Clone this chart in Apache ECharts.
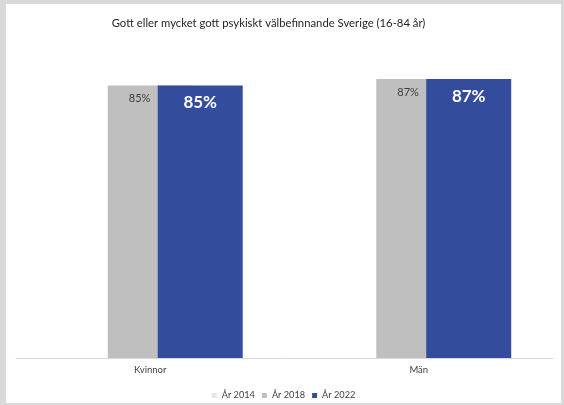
<!DOCTYPE html>
<html>
<head>
<meta charset="utf-8">
<script src="https://cdn.jsdelivr.net/npm/echarts@6/dist/echarts.min.js"></script>
<style>
  html, body { margin: 0; padding: 0; background: #d9d9d9; width: 564px; height: 405px; overflow: hidden; }
  #chart { position: absolute; left: 6px; top: 4px; width: 555px; height: 399px; background: #ffffff; }
</style>
</head>
<body>
<div id="chart"></div>
<script>
const titleText = 'Gott eller mycket gott psykiskt välbefinnande Sverige (16-84 år)';
const categories = ['Kvinnor', 'Män'];
const seriesNames = ['År 2014', 'År 2018', 'År 2022'];
const values2014 = [null, null];
const values2018 = [85, 87];
const values2022 = [85, 87];

const FONT = 'Lato, "Open Sans", sans-serif';
const chart = echarts.init(document.getElementById('chart'), null, { renderer: 'canvas' });
chart.setOption({
  animation: false,
  backgroundColor: '#ffffff',
  textStyle: { fontFamily: FONT },
  title: {
    text: titleText,
    left: 257.5,
    textAlign: 'center',
    top: 9,
    textStyle: { fontFamily: FONT, fontSize: 11.3, fontWeight: 'normal', color: '#262626' }
  },
  legend: {
    data: seriesNames,
    left: 'center',
    top: 382,
    itemWidth: 5,
    itemHeight: 5,
    itemGap: 7,
    icon: 'rect',
    textStyle: { fontFamily: FONT, fontSize: 9.2, color: '#404040' }
  },
  grid: { left: 10, right: 8, top: 33.4, bottom: 45, containLabel: false },
  xAxis: {
    type: 'category',
    data: categories,
    axisTick: { show: false },
    axisLine: { lineStyle: { color: '#d9d9d9', width: 1 } },
    axisLabel: { fontFamily: FONT, fontSize: 9.5, color: '#404040', margin: 7 }
  },
  yAxis: {
    type: 'value',
    min: 0,
    max: 100,
    show: false,
    splitLine: { show: false }
  },
  series: [
    {
      name: seriesNames[0], type: 'bar', data: values2014,
      barWidth: 85, barGap: '-41.2%',
      itemStyle: { color: '#e7e6e6' }
    },
    {
      name: seriesNames[1], type: 'bar', data: values2018,
      barWidth: 85, barGap: '-41.2%',
      itemStyle: { color: '#bfbfbf' },
      label: {
        show: true, position: [21, 13], align: 'left', verticalAlign: 'middle',
        formatter: '{c}%', fontFamily: FONT, fontSize: 11, color: '#404040'
      }
    },
    {
      name: seriesNames[2], type: 'bar', data: values2022,
      barWidth: 85, barGap: '-41.2%',
      itemStyle: { color: '#344c9c' },
      label: {
        show: true, position: [42.5, 17], align: 'center', verticalAlign: 'middle',
        formatter: '{c}%', fontFamily: FONT, fontSize: 17, fontWeight: 'bold', color: '#ffffff'
      }
    }
  ]
});
</script>
</body>
</html>
